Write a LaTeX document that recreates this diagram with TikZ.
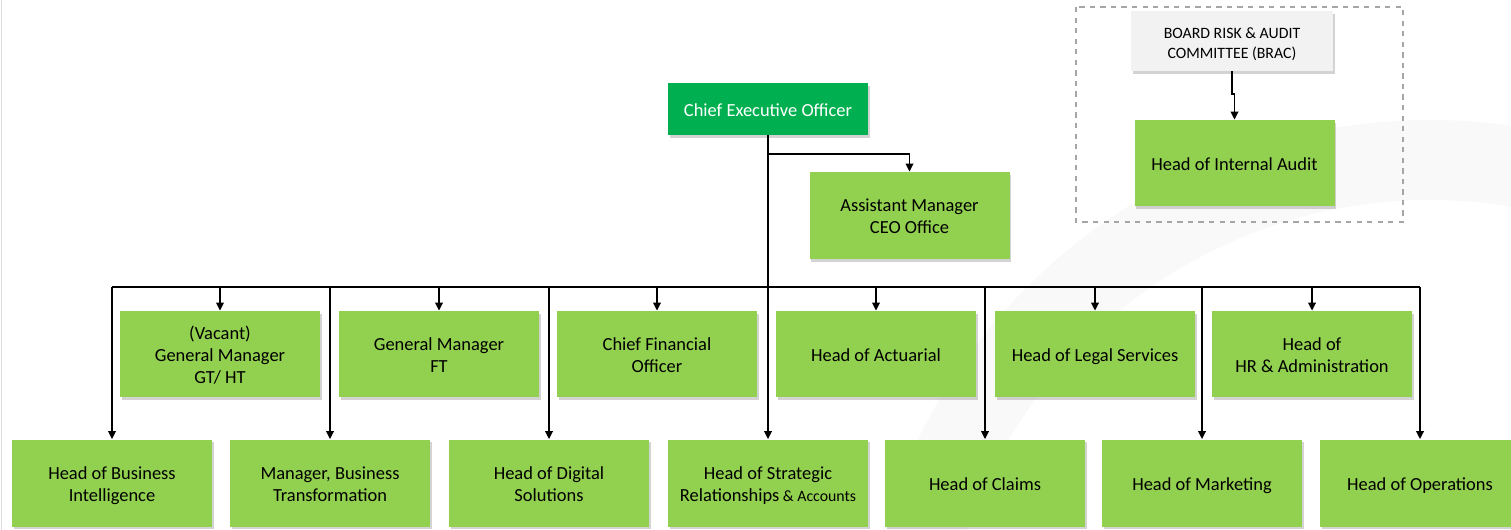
\documentclass[tikz,border=0pt]{standalone}
\usepackage{fontspec}
\setmainfont{Carlito}
\usetikzlibrary{shadows,arrows.meta}
\definecolor{boxgreen}{HTML}{92D050}
\definecolor{ceogreen}{HTML}{00B050}
\definecolor{boardgray}{HTML}{F2F2F2}
\newcommand{\topstrut}{\rule{0pt}{12.2pt}}
\begin{document}
\begin{tikzpicture}[
  post/.style={rectangle, fill=boxgreen, minimum width=4cm, minimum height=1.74cm,
    inner sep=2pt, align=center, font=\fontsize{10.5}{12.5}\selectfont,
    execute at begin node=\topstrut, execute at end node=\strut,
    drop shadow={opacity=0.35, shadow xshift=1pt, shadow yshift=-1.5pt}},
  link/.style={line width=1.1pt, -{Triangle[length=1.6mm,width=1.5mm]}},
]
\useasboundingbox (0,0) rectangle (30.22,-10.6);
% faint watermark ring and slide edge
\fill[gray!5, even odd rule] (28.6,-13.8) circle (11.4) (28.6,-13.8) circle (9.8);
\draw[blue!8!gray!25, line width=1pt] (0.03,0) -- (0.03,-10.6);

\node[post, fill=ceogreen, text=white, minimum height=1.04cm] (ceo) at (15.36,-2.18){Chief Executive Officer};
\node[post] (asst) at (18.19,-4.31){\topstrut Assistant Manager\\CEO Office};

% board committee
\draw[gray!70, dashed, line width=0.6pt] (21.52,-0.14) rectangle (28.06,-4.44);
\node[post, fill=boardgray, minimum width=4.04cm, minimum height=1.2cm,
  font=\fontsize{9}{11.5}\selectfont] (brac) at (24.64,-0.82){\topstrut BOARD RISK \& AUDIT\\COMMITTEE (BRAC)};
\node[post, minimum height=1.72cm] (hia) at (24.69,-3.26){Head of Internal Audit};

% first row
\node[post, minimum height=1.72cm] (gmgt) at (4.40,-7.08){\topstrut(Vacant)\\General Manager\\GT/ HT};
\node[post, minimum height=1.72cm] (gmft) at (8.78,-7.08){\topstrut General Manager\\FT};
\node[post, minimum height=1.72cm] (cfo) at (13.14,-7.08){\topstrut Chief Financial\\Officer};
\node[post, minimum height=1.72cm] (act) at (17.52,-7.08){Head of Actuarial};
\node[post, minimum height=1.72cm] (legal) at (21.90,-7.08){Head of Legal Services};
\node[post, minimum height=1.72cm] (hr) at (26.24,-7.08){\topstrut Head of\\HR \& Administration};

% second row
\node[post] (bi) at (2.24,-9.66){\topstrut Head of Business\\Intelligence};
\node[post] (bt) at (6.60,-9.66){\topstrut Manager, Business\\Transformation};
\node[post] (dig) at (10.98,-9.66){\topstrut Head of Digital\\Solutions};
\node[post] (strat) at (15.36,-9.66){\topstrut Head of Strategic\\Relationships{\fontsize{9}{12.5}\selectfont\ \& Accounts}};
\node[post] (claims) at (19.70,-9.66){Head of Claims};
\node[post] (mkt) at (24.04,-9.66){Head of Marketing};
\node[post] (ops) at (28.40,-9.66){Head of Operations};

\coordinate (bus) at (15.36,-5.74);
\coordinate (asstbranch) at (15.36,-3.08);

\draw[link] (ceo.south) -- (strat.north);
\draw[link] (asstbranch) -| (asst.north);
\draw[line width=1.1pt] (bi.north |- bus) -- (ops.north |- bus);
\foreach \n in {gmgt,gmft,cfo,act,legal,hr,bi,bt,dig,claims,mkt,ops}
  \draw[link] (\n.north |- bus) -- (\n.north);
\draw[link] (brac.south) -- ++(0,-0.45) -| (hia.north);
\end{tikzpicture}
\end{document}
